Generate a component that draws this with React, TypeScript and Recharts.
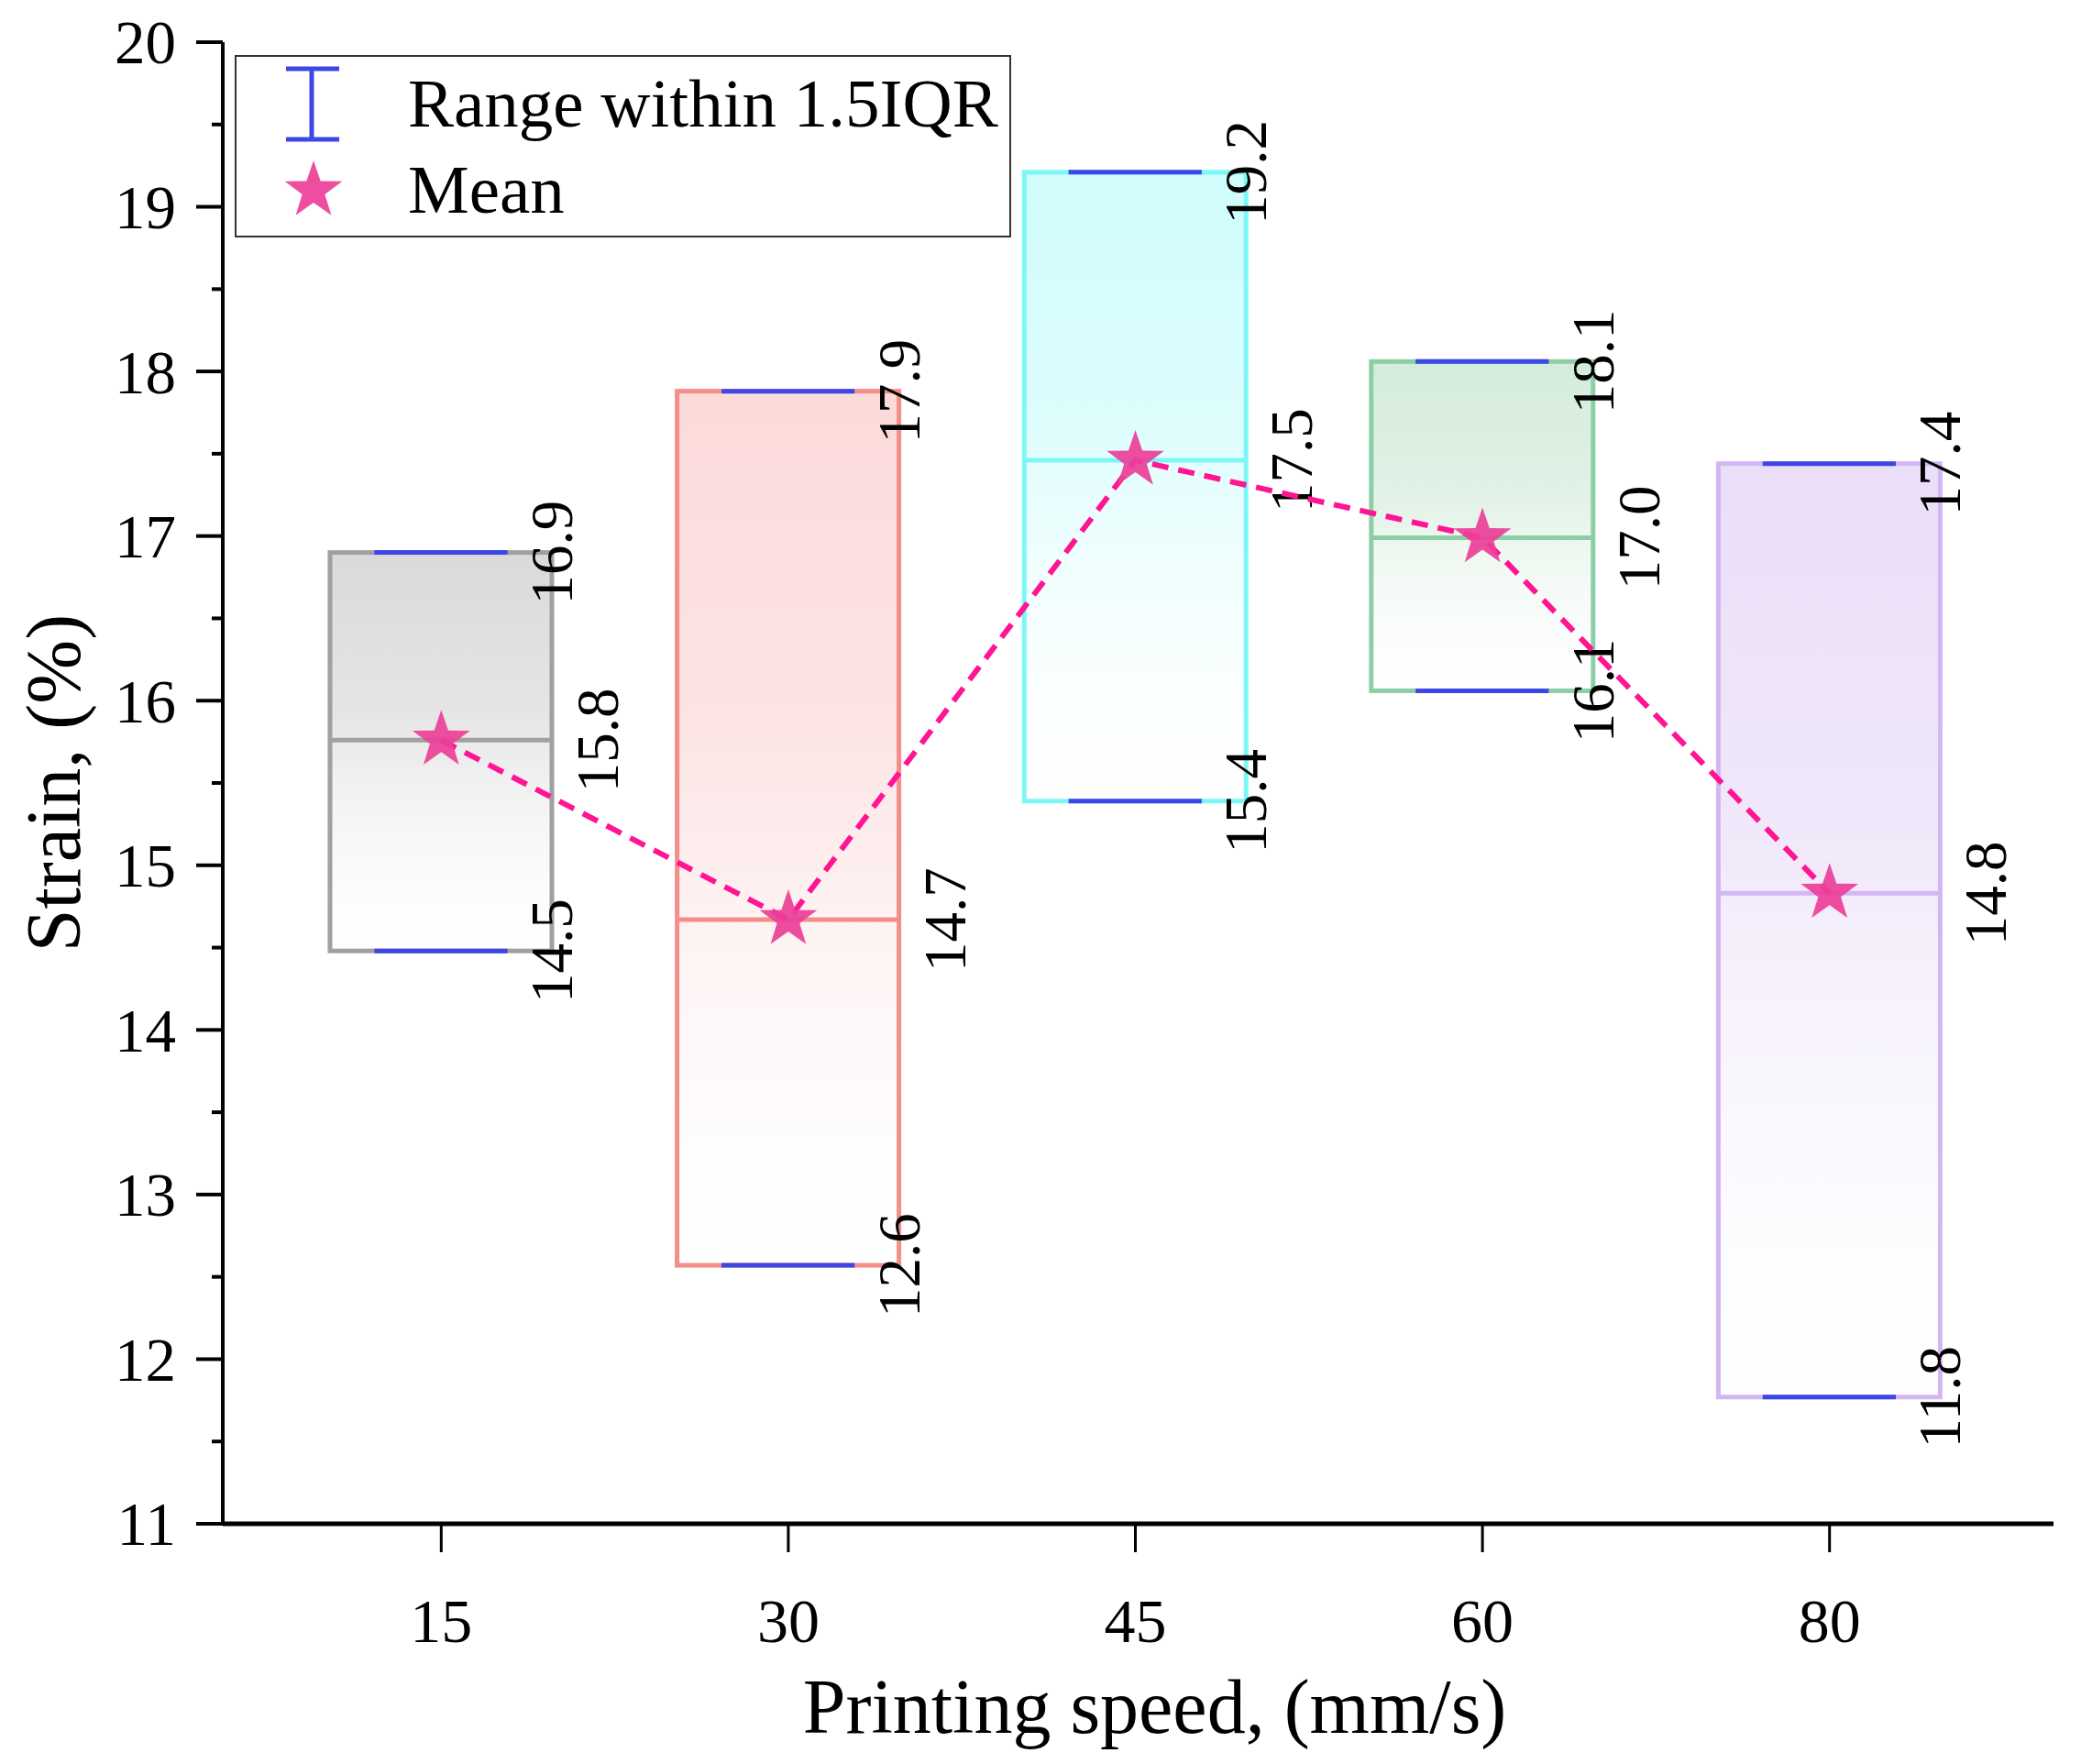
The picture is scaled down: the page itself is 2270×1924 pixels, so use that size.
import { ComposedChart, Bar, Line, XAxis, YAxis, Label } from "recharts";

const SPEEDS = ["15", "30", "45", "60", "80"];
const MIN_VALUES = [14.48, 12.57, 15.39, 16.06, 11.77];
const MAX_VALUES = [16.9, 17.88, 19.21, 18.06, 17.44];
const MEDIAN_VALUES = [15.76, 14.67, 17.46, 16.99, 14.83];
const MEAN_VALUES = [15.76, 14.67, 17.46, 16.99, 14.83];
const Y_TICKS = [11, 11.5, 12, 12.5, 13, 13.5, 14, 14.5, 15, 15.5, 16, 16.5, 17, 17.5, 18, 18.5, 19, 19.5, 20];

const BOX_STROKES = ["#A0A0A0", "#F48E88", "#7CF7F7", "#8CCFA6", "#D3B6F2"];
const BOX_FILLS = ["#DADADA", "#FCDADA", "#D0FCFC", "#D4ECDB", "#EBDEF8"];
const CAP_COLOR = "#3D46E6";
const MEAN_COLOR = "#FF1493";
const STAR_COLOR = "#EC3F98";
const FONT = '"Liberation Serif", "Times New Roman", serif';

const data = SPEEDS.map((speed, i) => ({
  speed,
  i,
  range: [MIN_VALUES[i], MAX_VALUES[i]],
  min: MIN_VALUES[i],
  max: MAX_VALUES[i],
  median: MEDIAN_VALUES[i],
  mean: MEAN_VALUES[i],
}));

// five-point star outline around (cx, cy)
function starPoints(cx: number, cy: number, r: number, inner: number) {
  const pts: string[] = [];
  for (let k = 0; k < 10; k++) {
    const rad = k % 2 === 0 ? r : inner;
    const a = -Math.PI / 2 + (k * Math.PI) / 5;
    pts.push(`${cx + rad * Math.cos(a)},${cy + rad * Math.sin(a)}`);
  }
  return pts.join(" ");
}

const StarDot = (props: any) => {
  const { cx, cy, index } = props;
  if (cx == null || cy == null) return null;
  return (
    <polygon
      key={`star-${index}`}
      points={starPoints(cx, cy, 33, 13)}
      fill={STAR_COLOR}
      fillOpacity={0.92}
    />
  );
};

const rotLabel = (x: number, y: number, text: string) => (
  <text
    x={x}
    y={y}
    transform={`rotate(-90 ${x} ${y})`}
    textAnchor="middle"
    fontSize={65}
    fontFamily={FONT}
    fill="#000"
  >
    {text}
  </text>
);

const BoxShape = (props: any) => {
  const { x, y, width, height, payload } = props;
  const top = Math.min(y, y + height);
  const h = Math.abs(height);
  const bottom = top + h;
  const { min, max, median, i } = payload;
  const medY = top + ((max - median) / (max - min)) * h;
  const right = x + width;
  const cx = x + width / 2;
  const capHalf = width * 0.3;
  const stroke = BOX_STROKES[i];
  return (
    <g>
      <rect x={x} y={top} width={width} height={h} fill={`url(#boxFill${i})`} stroke={stroke} strokeWidth={5} />
      <line x1={x} x2={right} y1={medY} y2={medY} stroke={stroke} strokeWidth={5} />
      <line x1={cx - capHalf} x2={cx + capHalf} y1={top} y2={top} stroke={CAP_COLOR} strokeWidth={5} />
      <line x1={cx - capHalf} x2={cx + capHalf} y1={bottom} y2={bottom} stroke={CAP_COLOR} strokeWidth={5} />
      {rotLabel(right + 22, top, max.toFixed(1))}
      {rotLabel(right + 72, medY, median.toFixed(1))}
      {rotLabel(right + 22, bottom, min.toFixed(1))}
    </g>
  );
};

const YTick = (props: any) => {
  const { x, y, payload } = props;
  const major = Number.isInteger(payload.value);
  return (
    <g>
      <line x1={x - (major ? 29 : 12)} x2={x} y1={y} y2={y} stroke="#000" strokeWidth={4} />
      {major && (
        <text x={x - 51} y={y} dy="0.35em" textAnchor="end" fontSize={67} fontFamily={FONT} fill="#000">
          {payload.value}
        </text>
      )}
    </g>
  );
};

const YTitle = (props: any) => {
  const vb = props.viewBox || { x: 0, y: 46, width: 243, height: 1616 };
  const x = vb.x + 87;
  const y = vb.y + vb.height / 2;
  return (
    <text x={x} y={y} transform={`rotate(-90 ${x} ${y})`} textAnchor="middle" fontSize={84} fontFamily={FONT} fill="#000">
      Strain, (%)
    </text>
  );
};

const XTitle = (props: any) => {
  const vb = props.viewBox || { x: 243, y: 1662, width: 1997, height: 262 };
  return (
    <text x={vb.x + vb.width / 2 + 18} y={vb.y + 228} textAnchor="middle" fontSize={84} fontFamily={FONT} fill="#000">
      Printing speed, (mm/s)
    </text>
  );
};

export default function App() {
  return (
    <div style={{ position: "absolute", left: 0, top: 0, width: 2270, height: 1924, background: "#fff" }}>
      <ComposedChart
        width={2270}
        height={1924}
        data={data}
        margin={{ top: 46, right: 30, bottom: 0, left: 0 }}
        style={{ fontFamily: FONT }}
      >
        <defs>
          {BOX_FILLS.map((c, i) => (
            <linearGradient key={i} id={`boxFill${i}`} x1="0" y1="0" x2="0" y2="1">
              <stop offset="0%" stopColor={c} />
              <stop offset="40%" stopColor={c} stopOpacity={0.7} />
              <stop offset="100%" stopColor="#ffffff" stopOpacity={0.2} />
            </linearGradient>
          ))}
        </defs>
        <XAxis
          dataKey="speed"
          height={262}
          padding={{ left: 49, right: 55 }}
          tickSize={31}
          tickMargin={50}
          tick={{ fontSize: 68, fill: "#000", fontFamily: FONT }}
          tickLine={{ stroke: "#000", strokeWidth: 3 }}
          axisLine={{ stroke: "#000", strokeWidth: 5 }}
        >
          <Label content={XTitle} />
        </XAxis>
        <XAxis
          xAxisId="top"
          orientation="top"
          dataKey="speed"
          height={0}
          tick={false}
          tickLine={false}
          axisLine={{ stroke: "#000", strokeWidth: 4 }}
        />
        <YAxis
          type="number"
          domain={[11, 20]}
          ticks={Y_TICKS}
          interval={0}
          width={243}
          tickSize={0}
          tickMargin={0}
          tick={YTick}
          tickLine={false}
          axisLine={{ stroke: "#000", strokeWidth: 4 }}
        >
          <Label content={YTitle} />
        </YAxis>
        <YAxis
          yAxisId="right"
          orientation="right"
          type="number"
          domain={[0, 1]}
          width={0}
          tick={false}
          tickLine={false}
          axisLine={{ stroke: "#000", strokeWidth: 4 }}
        />
        <Bar dataKey="range" barSize={242} shape={BoxShape} isAnimationActive={false} />
        <Line
          type="linear"
          dataKey="mean"
          stroke={MEAN_COLOR}
          strokeWidth={6}
          strokeDasharray="18 11"
          dot={StarDot}
          activeDot={false}
          isAnimationActive={false}
        />
      </ComposedChart>
      <svg
        width={2270}
        height={1924}
        style={{ position: "absolute", left: 0, top: 0, pointerEvents: "none" }}
      >
        <rect x={257} y={61} width={845} height={197} fill="#fff" stroke="#333" strokeWidth={2} />
        <line x1={340} x2={340} y1={75} y2={152} stroke={CAP_COLOR} strokeWidth={5} />
        <line x1={312} x2={370} y1={75} y2={75} stroke={CAP_COLOR} strokeWidth={5} />
        <line x1={312} x2={370} y1={152} y2={152} stroke={CAP_COLOR} strokeWidth={5} />
        <text x={445} y={138} fontSize={75} fontFamily={FONT} fill="#000">
          Range within 1.5IQR
        </text>
        <polygon points={starPoints(342, 208, 33, 13)} fill={STAR_COLOR} fillOpacity={0.92} />
        <text x={445} y={232} fontSize={75} fontFamily={FONT} fill="#000">
          Mean
        </text>
      </svg>
    </div>
  );
}
